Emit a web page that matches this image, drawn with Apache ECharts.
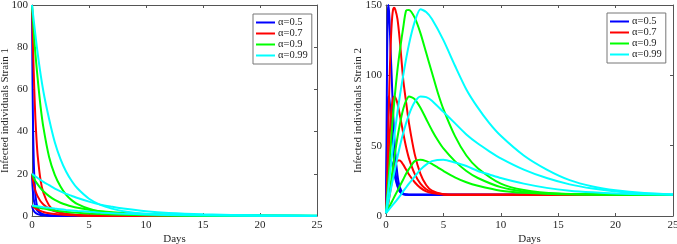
<!DOCTYPE html>
<html>
<head>
<meta charset="utf-8">
<script src="https://cdn.jsdelivr.net/npm/echarts@6/dist/echarts.min.js"></script>
<style>
html,body{margin:0;padding:0;background:#fff}
#main{width:677px;height:244px}
</style>
</head>
<body>
<div id="main"></div>
<script>
var alphaNames = ["α=0.5", "α=0.7", "α=0.9", "α=0.99"];
var colors = ["#0000ff", "#ff0000", "#00ff00", "#00ffff"];

// ---- strain 1 (three starting values per alpha: 100, 20, 5)
var s1TimeA05 = [0, 0.025, 0.05, 0.1, 0.15, 0.2, 0.3, 0.4, 0.5, 0.75, 1, 1.5, 2, 25];
var s1A05hi  = [100, 80, 62, 40, 27, 19, 10, 6, 3.8, 1.5, 0.7, 0.25, 0.1, 0];
var s1A05mid = [20, 16.5, 14, 10.5, 8, 6.5, 4.4, 3.1, 2.3, 1.2, 0.7, 0.3, 0.15, 0];
var s1A05lo  = [5, 4.3, 3.8, 3, 2.5, 2.1, 1.5, 1.15, 0.9, 0.5, 0.3, 0.15, 0.08, 0];

var s1TimeA07 = [0, 0.1, 0.2, 0.3, 0.4, 0.5, 0.75, 1, 1.5, 2, 3, 4, 6, 25];
var s1A07hi  = [100, 78, 60, 46, 36, 28.5, 17, 11, 5, 2.6, 0.9, 0.4, 0.15, 0];
var s1A07mid = [20, 16.5, 14, 12, 10.5, 9.3, 7, 5.5, 3.5, 2.2, 1, 0.5, 0.2, 0];
var s1A07lo  = [5, 4.4, 4, 3.6, 3.3, 3, 2.4, 1.9, 1.3, 0.9, 0.45, 0.25, 0.1, 0];

var s1TimeA09 = [0, 0.25, 0.5, 0.75, 1, 1.5, 2, 2.5, 3, 3.5, 4, 5, 6, 8, 10, 15, 25];
var s1A09hi  = [100, 80, 65, 52, 42, 28, 19.5, 14, 10, 7.4, 5.6, 3.4, 2.1, 1, 0.5, 0.15, 0.05];
var s1A09mid = [20, 17, 15, 13.2, 11.7, 9.4, 7.6, 6.3, 5.3, 4.5, 3.9, 3, 2.3, 1.4, 0.9, 0.4, 0.15];
var s1A09lo  = [5, 4.5, 4.1, 3.8, 3.5, 3, 2.6, 2.2, 1.9, 1.7, 1.5, 1.15, 0.9, 0.55, 0.35, 0.15, 0.05];

var s1TimeA099 = [0, 0.5, 1, 1.5, 2, 2.5, 3, 3.5, 4, 5, 6, 7, 8, 10, 12, 15, 20, 25];
var s1A099hi  = [100, 77, 59, 46, 35, 27, 21, 16.5, 13, 8.2, 5.3, 3.5, 2.3, 1.1, 0.6, 0.3, 0.1, 0.05];
var s1A099mid = [20, 18, 16.2, 14.6, 13, 11.7, 10.5, 9.5, 8.5, 6.8, 5.4, 4.4, 3.5, 2.2, 1.4, 0.8, 0.3, 0.15];
var s1A099lo  = [5, 4.6, 4.2, 3.85, 3.5, 3.2, 2.9, 2.65, 2.4, 2, 1.6, 1.35, 1.1, 0.75, 0.5, 0.3, 0.12, 0.06];

// ---- strain 2 (peaks near 150, 85, 40 per alpha)
var s2TimeA05 = [0, 0.05, 0.1, 0.15, 0.2, 0.25, 0.3, 0.4, 0.5, 0.6, 0.8, 1, 1.2, 1.5, 2, 25];
var s2A05hi  = [2, 60, 115, 143, 150, 147, 140, 118, 98, 77, 46, 29, 20.5, 16, 15.1, 15];
var s2A05mid = [2, 30, 58, 76, 84, 85, 83, 74, 62, 50, 32, 22, 17.5, 15.5, 15.1, 15];
var s2A05lo  = [2, 10, 19, 27, 33, 37, 39.5, 40, 38, 34.5, 27, 21, 17.5, 15.6, 15.1, 15];

var s2TimeA07 = [0, 0.1, 0.2, 0.3, 0.4, 0.5, 0.6, 0.7, 0.8, 1, 1.2, 1.5, 1.75, 2, 2.5, 3, 3.5, 4, 5, 6, 25];
var s2A07hi  = [2, 28, 62, 95, 120, 137, 146, 148, 147, 140, 125, 97, 81, 66, 44, 30, 22, 18, 15.5, 15.1, 15];
var s2A07mid = [2, 15, 35, 54, 68, 78, 83, 85, 84.5, 80, 72, 59, 49, 41, 30, 23, 19, 17, 15.4, 15.1, 15];
var s2A07lo  = [2, 5, 9, 14, 19, 24, 29, 33, 36, 39.5, 39.5, 36.5, 33, 29.5, 24, 20, 17.5, 16.3, 15.3, 15.1, 15];

var s2TimeA09 = [0, 0.25, 0.5, 0.75, 1, 1.25, 1.5, 1.75, 2, 2.5, 3, 3.5, 4, 4.5, 5, 6, 7, 8, 10, 12, 15, 20, 25];
var s2A09hi  = [2, 30, 60, 84, 104, 120, 134, 146, 146.5, 141, 130, 116, 102, 88, 76, 57, 43, 34, 23, 18.5, 16, 15.2, 15];
var s2A09mid = [2, 14, 28, 43, 56, 67, 76, 82, 85, 83, 77, 69, 61, 54, 48, 39, 32, 27, 20.5, 17.5, 15.8, 15.2, 15];
var s2A09lo  = [2, 6, 10, 14, 18, 22, 26, 30, 33.5, 39, 40, 39, 37, 34.5, 32, 27.5, 24, 21.5, 18, 16.5, 15.5, 15.1, 15];

var s2TimeA099 = [0, 0.5, 1, 1.5, 2, 2.5, 3, 3.5, 4, 5, 6, 7, 8, 9, 10, 12, 14, 16, 18, 20, 22.5, 25];
var s2A099hi  = [2, 42, 74, 100, 122, 138, 147, 145, 140, 125, 107, 90, 77, 66, 57, 43, 33, 25.5, 21, 18.3, 16.3, 15.3];
var s2A099mid = [2, 22, 42, 59, 72, 81, 85, 84.5, 82, 74, 66, 58, 51.5, 46, 41, 33, 27, 22.5, 19.5, 17.5, 16, 15.3];
var s2A099lo  = [2, 7, 12, 17.5, 23, 28, 33, 36.5, 39, 40, 38, 35.5, 32, 29.5, 27, 23, 20, 18, 16.8, 16, 15.5, 15.2];

var strain1 = [
	[s1TimeA05, [s1A05hi, s1A05mid, s1A05lo]],
	[s1TimeA07, [s1A07hi, s1A07mid, s1A07lo]],
	[s1TimeA09, [s1A09hi, s1A09mid, s1A09lo]],
	[s1TimeA099, [s1A099hi, s1A099mid, s1A099lo]]
];
var strain2 = [
	[s2TimeA05, [s2A05hi, s2A05mid, s2A05lo]],
	[s2TimeA07, [s2A07hi, s2A07mid, s2A07lo]],
	[s2TimeA09, [s2A09hi, s2A09mid, s2A09lo]],
	[s2TimeA099, [s2A099hi, s2A099mid, s2A099lo]]
];

var fontName = "Liberation Serif";
var textColor = "#262626";
var boxColor = "#555";

function pairUp(times, vals) {
	var out = [];
	for (var i = 0; i < times.length; i++) {
		out.push([times[i], vals[i]]);
	}
	return out;
}

function buildSeries(groups, axisIdx) {
	var list = [];
	for (var a = 0; a < groups.length; a++) {
		var times = groups[a][0];
		var curves = groups[a][1];
		for (var c = 0; c < curves.length; c++) {
			list.push({
				name: alphaNames[a],
				type: "line",
				xAxisIndex: axisIdx,
				yAxisIndex: axisIdx,
				data: pairUp(times, curves[c]),
				smooth: 0.25,
				symbol: "none",
				lineStyle: { color: colors[a], width: 2 },
				itemStyle: { color: colors[a] },
				animation: false
			});
		}
	}
	return list;
}

function xAx(gridIdx, pos, withLabels) {
	return {
		type: "value", gridIndex: gridIdx, position: pos,
		min: 0, max: 25, interval: 5,
		name: withLabels ? "Days" : "", nameLocation: "middle", nameGap: 18,
		nameMoveOverlap: false,
		nameTextStyle: { fontFamily: fontName, fontSize: 11, color: textColor },
		axisLine: { show: true, onZero: false, lineStyle: { color: boxColor, width: 1 } },
		axisTick: { show: true, inside: true, length: 3, lineStyle: { color: boxColor } },
		axisLabel: { show: withLabels, margin: 4, fontFamily: fontName, fontSize: 11, color: textColor },
		splitLine: { show: false }
	};
}

function yAx(gridIdx, pos, withLabels, maxV, step, label, gap) {
	return {
		type: "value", gridIndex: gridIdx, position: pos,
		min: 0, max: maxV, interval: step,
		name: withLabels ? label : "", nameLocation: "middle", nameGap: gap,
		nameMoveOverlap: false,
		nameTextStyle: { fontFamily: fontName, fontSize: 11, color: textColor },
		axisLine: { show: true, onZero: false, lineStyle: { color: boxColor, width: 1 } },
		axisTick: { show: true, inside: true, length: 3, lineStyle: { color: boxColor } },
		axisLabel: { show: withLabels, margin: 4, fontFamily: fontName, fontSize: 11, color: textColor },
		splitLine: { show: false }
	};
}

function legendAt(left, top) {
	return {
		data: alphaNames, orient: "vertical", left: left, top: top,
		backgroundColor: "#fff", borderColor: "#777", borderWidth: 1,
		padding: [3, 4, 3, 3], itemGap: 0, itemWidth: 19, itemHeight: 2,
		icon: "rect",
		textStyle: { fontFamily: fontName, fontSize: 10.5, lineHeight: 11, color: textColor, padding: [0, 0, 0, -2] },
		selectedMode: false
	};
}

var myChart = echarts.init(document.getElementById("main"), null, { renderer: "canvas" });
var option = {
	backgroundColor: "#fff",
	animation: false,
	grid: [
		{ left: 32, right: 360, top: 5, bottom: 28, outerBoundsMode: "none", containLabel: false },
		{ left: 386, right: 4, top: 5, bottom: 28, outerBoundsMode: "none", containLabel: false }
	],
	legend: [legendAt(253, 14), legendAt(607, 13)],
	xAxis: [
		xAx(0, "bottom", true), xAx(1, "bottom", true),
		xAx(0, "top", false), xAx(1, "top", false)
	],
	yAxis: [
		yAx(0, "left", true, 100, 20, "Infected individuals Strain 1", 21),
		yAx(1, "left", true, 150, 50, "Infected individuals Strain 2", 22),
		yAx(0, "right", false, 100, 20, "", 0),
		yAx(1, "right", false, 150, 50, "", 0)
	],
	series: buildSeries(strain1, 0).concat(buildSeries(strain2, 1))
};
myChart.setOption(option);
</script>
</body>
</html>
